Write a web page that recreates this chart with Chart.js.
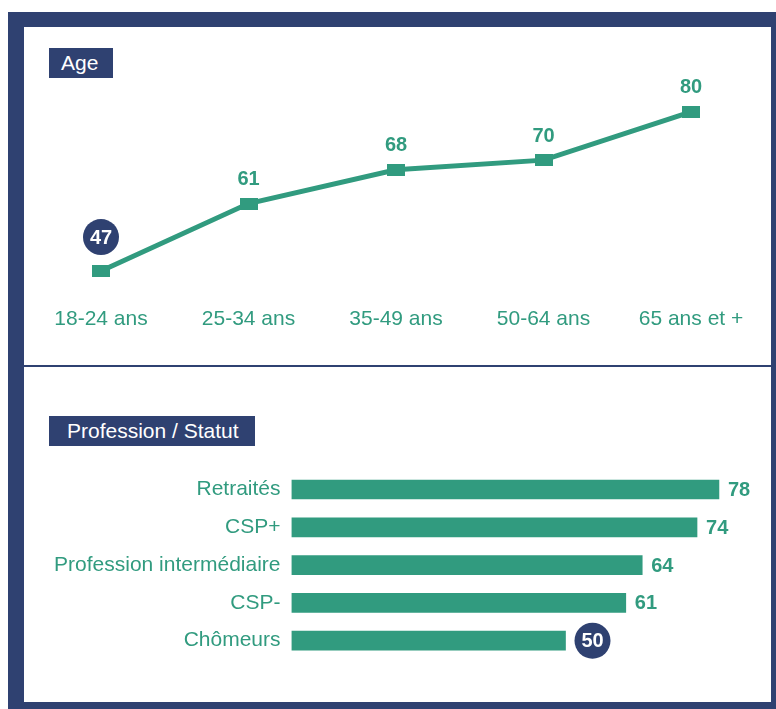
<!DOCTYPE html>
<html>
<head>
<meta charset="utf-8">
<script src="https://cdn.jsdelivr.net/npm/chart.js@4"></script>
<style>
  html, body { margin: 0; padding: 0; background: #fff; }
  body { width: 776px; height: 709px; position: relative; overflow: hidden; font-family: "Liberation Sans", Arial, sans-serif; }
  #frame { position: absolute; left: 8px; top: 12px; width: 768px; height: 697px; background: #2f4171; }
  #inner { position: absolute; left: 24px; top: 27px; width: 747px; height: 675px; background: #fff; }
  #divider { position: absolute; left: 24px; top: 365px; width: 747px; height: 2px; background: #2f4171; }
  .tag { position: absolute; background: #2f4171; color: #fff; font-size: 21px; line-height: 30px; height: 30px; box-sizing: border-box; }
  #tagAge { left: 49px; top: 48px; width: 64px; padding-left: 12px; }
  #tagStatut { left: 49px; top: 416px; width: 206px; padding-left: 18px; }
  .box { position: absolute; left: 24px; width: 747px; }
  #ageBox { top: 27px; height: 338px; }
  #statutBox { top: 367px; height: 335px; }
</style>
</head>
<body>
<div id="frame"></div>
<div id="inner"></div>
<div id="divider"></div>
<div class="tag" id="tagAge">Age</div>
<div class="tag" id="tagStatut">Profession / Statut</div>
<div class="box" id="ageBox"><canvas id="ageChart"></canvas></div>
<div class="box" id="statutBox"><canvas id="statutChart"></canvas></div>
<script>
// Age
var ageLabels = ["18-24 ans", "25-34 ans", "35-49 ans", "50-64 ans", "65 ans et +"];
var ageValues = [47, 61, 68, 70, 80];
var ageHighlight = 0;

// Profession / Statut
var statutLabels = ["Retraités", "CSP+", "Profession intermédiaire", "CSP-", "Chômeurs"];
var statutValues = [78, 74, 64, 61, 50];
var statutHighlight = 4;

var teal = "#319b7f";
var navy = "#2f4171";
var fontFamily = "'Liberation Sans', Arial, sans-serif";

// rectangular marker for the line
var marker = document.createElement("canvas");
marker.width = 18;
marker.height = 12;
var mctx = marker.getContext("2d");
mctx.fillStyle = teal;
mctx.fillRect(0, 0, 18, 12);

// draws the values next to the marks, one of them inside a navy disc
var valueLabels = {
    id: "valueLabels",
    afterDatasetsDraw: function (chart, args, opts) {
        var ctx = chart.ctx;
        var meta = chart.getDatasetMeta(0);
        var values = chart.data.datasets[0].data;
        ctx.save();
        ctx.font = "bold " + opts.size + "px " + fontFamily;
        meta.data.forEach(function (el, i) {
            var text = String(values[i]);
            var horizontal = opts.side === "right";
            if (i === opts.highlight) {
                var cx = horizontal ? el.x + opts.discGap : el.x;
                var cy = horizontal ? el.y : el.y - opts.discGap;
                ctx.fillStyle = navy;
                ctx.beginPath();
                ctx.arc(cx, cy, 18, 0, Math.PI * 2);
                ctx.fill();
                ctx.fillStyle = "#fff";
                ctx.textAlign = "center";
                ctx.textBaseline = "middle";
                ctx.fillText(text, cx, cy + 1);
            } else {
                ctx.fillStyle = teal;
                ctx.textBaseline = "middle";
                if (horizontal) {
                    ctx.textAlign = "left";
                    ctx.fillText(text, el.x + opts.gap, el.y + 1);
                } else {
                    ctx.textAlign = "center";
                    ctx.fillText(text, el.x, el.y - opts.gap);
                }
            }
        });
        ctx.restore();
    },
};

var ageChart = new Chart(document.getElementById("ageChart"), {
    type: "line",
    data: {
        labels: ageLabels,
        datasets: [
            {
                data: ageValues,
                borderColor: teal,
                borderWidth: 5,
                pointStyle: marker,
                pointRadius: 9,
                tension: 0,
            },
        ],
    },
    options: {
        responsive: true,
        maintainAspectRatio: false,
        animation: false,
        layout: { autoPadding: false, padding: { left: 3.25, right: 6.25, top: 36.7, bottom: 31 } },
        scales: {
            x: {
                offset: true,
                grid: { display: false, drawTicks: false },
                border: { display: false },
                ticks: { color: teal, padding: 2, font: { family: fontFamily, size: 21 } },
                afterFit: function (scale) {
                    // keep the labels from pushing the plot inwards
                    scale.paddingLeft = 0;
                    scale.paddingRight = 0;
                },
            },
            y: { display: false, min: 40, max: 90 },
        },
        plugins: {
            legend: { display: false },
            tooltip: { enabled: false },
            valueLabels: { highlight: ageHighlight, side: "top", gap: 24, discGap: 34, size: 20 },
        },
    },
    plugins: [valueLabels],
});

var statutChart = new Chart(document.getElementById("statutChart"), {
    type: "bar",
    data: {
        labels: statutLabels,
        datasets: [
            {
                data: statutValues,
                backgroundColor: teal,
                barThickness: 19,
            },
        ],
    },
    options: {
        indexAxis: "y",
        responsive: true,
        maintainAspectRatio: false,
        animation: false,
        layout: { autoPadding: false, padding: { left: 0, right: 13.7, top: 103.6, bottom: 42.4 } },
        scales: {
            x: { display: false, min: 0, max: 85 },
            y: {
                grid: { display: false, drawTicks: false },
                border: { display: false },
                ticks: { color: teal, padding: 11, autoSkip: false, font: { family: fontFamily, size: 21 } },
                afterFit: function (scale) {
                    scale.width = 267.5;
                },
            },
        },
        plugins: {
            legend: { display: false },
            tooltip: { enabled: false },
            valueLabels: { highlight: statutHighlight, side: "right", gap: 9, discGap: 27, size: 20 },
        },
    },
    plugins: [valueLabels],
});
</script>
</body>
</html>
